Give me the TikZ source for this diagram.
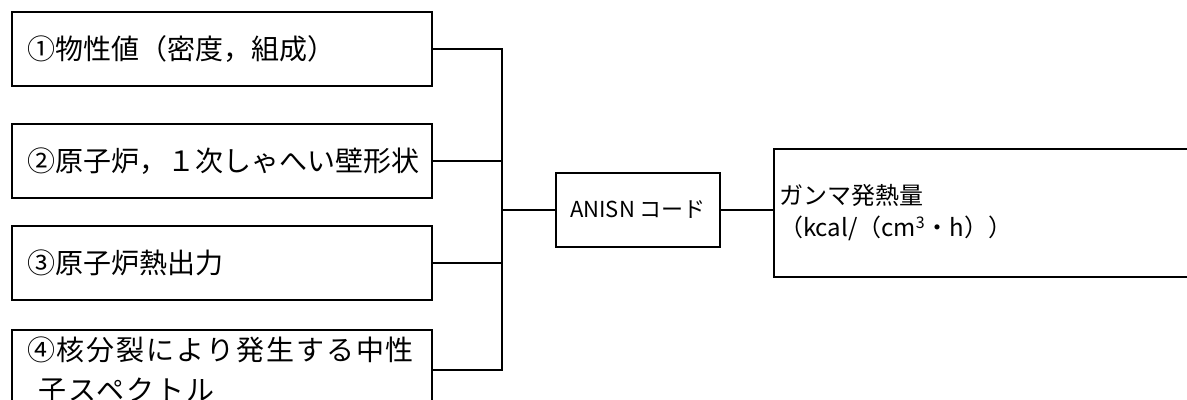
\documentclass[tikz,border=0pt]{standalone}
\usepackage{fontspec}
\setmainfont{Noto Sans CJK JP}
\newfontfamily\jpspread{Noto Sans CJK JP}[LetterSpace=7]
\usetikzlibrary{positioning}

\tikzset{
  inbox/.style={draw, line width=1pt, minimum width=210pt, minimum height=37pt,
    text width=195pt, inner xsep=7.5pt, align=left, font=\fontsize{14}{20}\selectfont},
  codebox/.style={draw, line width=1pt, minimum width=82pt, minimum height=37pt,
    font=\fontsize{11}{16}\selectfont},
  outbox/.style={draw, line width=1pt, minimum width=215pt, minimum height=64pt,
    text width=210pt, inner xsep=2.5pt, align=left, anchor=west,
    font=\fontsize{12}{16}\selectfont},
  link/.style={line width=1pt, line cap=rect}
}

\begin{document}
\begin{tikzpicture}[x=0.5pt, y=-0.5pt]
  \useasboundingbox (0,0) rectangle (1187,400);
  \clip (0,0) rectangle (1187,400);

  % Input data
  \node[inbox] (phys) at (222,49) {①物性値（密度，組成）};
  \node[inbox] (geom) at (222,161) {②原子炉，１次しゃへい壁形状};
  \node[inbox] (power) at (222,263) {③原子炉熱出力};
  \node[inbox, minimum height=39pt] (spec) at (222,370)
    {\jpspread ④核分裂により発生する中性\\\hspace*{0.4em}子スペクトル};

  % Code and result
  \node[codebox] (anisn) at (638,210) {ANISN コード};
  \node[outbox] (gamma) at (773,213) {ガンマ発熱量\\（kcal/（cm\textsuperscript{3}・h））};

  % Collecting line
  \coordinate (bus) at (502,49);
  \draw[link] (phys.east) -- (phys.east -| bus);
  \draw[link] (geom.east) -- (geom.east -| bus);
  \draw[link] (power.east) -- (power.east -| bus);
  \draw[link] (spec.east) -- (spec.east -| bus);
  \draw[link] (phys.east -| bus) -- (spec.east -| bus);
  \draw[link] (anisn.west -| bus) -- (anisn.west);
  \draw[link] (anisn.east) -- (anisn.east -| gamma.west);
\end{tikzpicture}
\end{document}
